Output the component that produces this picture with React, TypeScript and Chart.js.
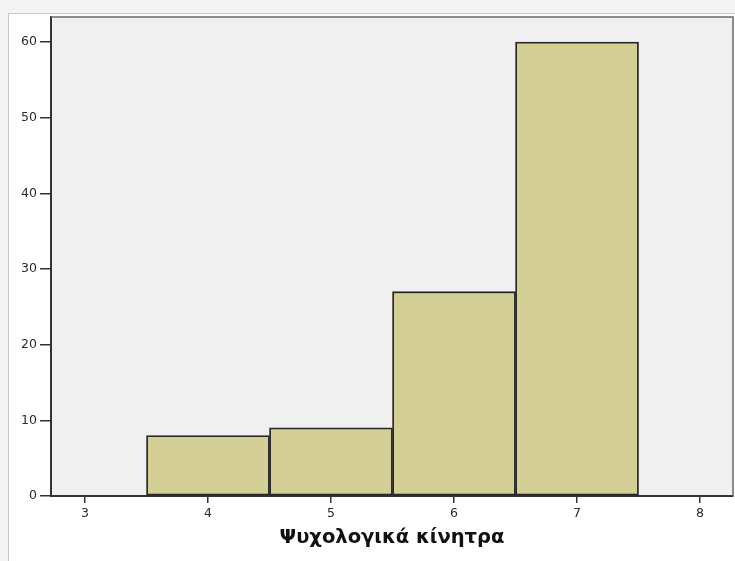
import { useEffect, useRef } from "react";
import { Chart, registerables } from "chart.js";
Chart.register(...registerables);

const categories = [4, 5, 6, 7];
const frequencies = [8, 9, 27, 60];
const xTickValues = [3, 4, 5, 6, 7, 8];
const yTickValues = [0, 10, 20, 30, 40, 50, 60];
const xTitle = "Ψυχολογικά κίνητρα";

export default function App() {
  const ref = useRef<HTMLCanvasElement>(null);
  useEffect(() => {
    if (!ref.current) return;
    const framePlugin = {
      id: "plotFrame",
      beforeDraw(chart: any) {
        const { ctx, chartArea: a } = chart;
        ctx.save();
        ctx.fillStyle = "#f0f0f0";
        ctx.fillRect(a.left, a.top, a.right - a.left, a.bottom - a.top);
        ctx.restore();
      },
      afterDatasetsDraw(chart: any) {
        const { ctx, chartArea: a } = chart;
        ctx.save();
        ctx.strokeStyle = "#6a6a6a";
        ctx.lineWidth = 1.5;
        ctx.beginPath();
        ctx.moveTo(a.left, a.top);
        ctx.lineTo(a.right, a.top);
        ctx.lineTo(a.right, a.bottom);
        ctx.stroke();
        ctx.restore();
      },
    };
    const font = { family: "'DejaVu Sans', Verdana, sans-serif", size: 12.5 };
    const chart = new Chart(ref.current, {
      type: "bar",
      data: {
        datasets: [
          {
            data: categories.map((c, i) => ({ x: c, y: frequencies[i] })),
            backgroundColor: "#d4cf95",
            borderColor: "#262626",
            borderWidth: 1.8,
            borderSkipped: false,
            barPercentage: 1,
            categoryPercentage: 1,
          },
        ],
      },
      options: {
        animation: false,
        responsive: false,
        layout: { padding: { top: 17, right: 2, left: 0, bottom: 0 } },
        plugins: { legend: { display: false }, tooltip: { enabled: false } },
        scales: {
          x: {
            type: "linear",
            min: 2.7236,
            max: 8.268,
            offset: false,
            afterBuildTicks: (s: any) => {
              s.ticks = xTickValues.map((v) => ({ value: v }));
            },
            afterFit: (s: any) => {
              s.height = 65;
            },
            ticks: { color: "#2a2a2a", font, padding: 3, autoSkip: false, maxRotation: 0 },
            grid: { offset: false, drawOnChartArea: false, tickLength: 7, color: "#333", lineWidth: 1.5 },
            border: { color: "#333", width: 2 },
            title: {
              display: true,
              text: xTitle,
              color: "#111",
              font: { family: "'DejaVu Sans', Verdana, sans-serif", size: 19.5, weight: "bold" },
              padding: { top: 0, bottom: 11 },
            },
          },
          y: {
            type: "linear",
            min: 0,
            max: 63.3,
            afterBuildTicks: (s: any) => {
              s.ticks = yTickValues.map((v) => ({ value: v }));
            },
            afterFit: (s: any) => {
              s.width = 51;
            },
            ticks: { color: "#2a2a2a", font, padding: 3 },
            grid: { drawOnChartArea: false, tickLength: 11, color: "#333", lineWidth: 1.5 },
            border: { color: "#333", width: 2 },
          },
        },
      },
      plugins: [framePlugin],
    } as any);
    return () => chart.destroy();
  }, []);
  return (
    <div style={{ position: "absolute", left: 0, top: 0, width: 735, height: 561, background: "#f4f4f4", overflow: "hidden" }}>
      <div
        style={{
          position: "absolute",
          left: 8,
          top: 13,
          width: 740,
          height: 560,
          background: "#ffffff",
          border: "1px solid #c8c8c8",
        }}
      />
      <canvas ref={ref} width={735} height={561} style={{ position: "absolute", left: 0, top: 0, width: 735, height: 561 }} />
    </div>
  );
}
